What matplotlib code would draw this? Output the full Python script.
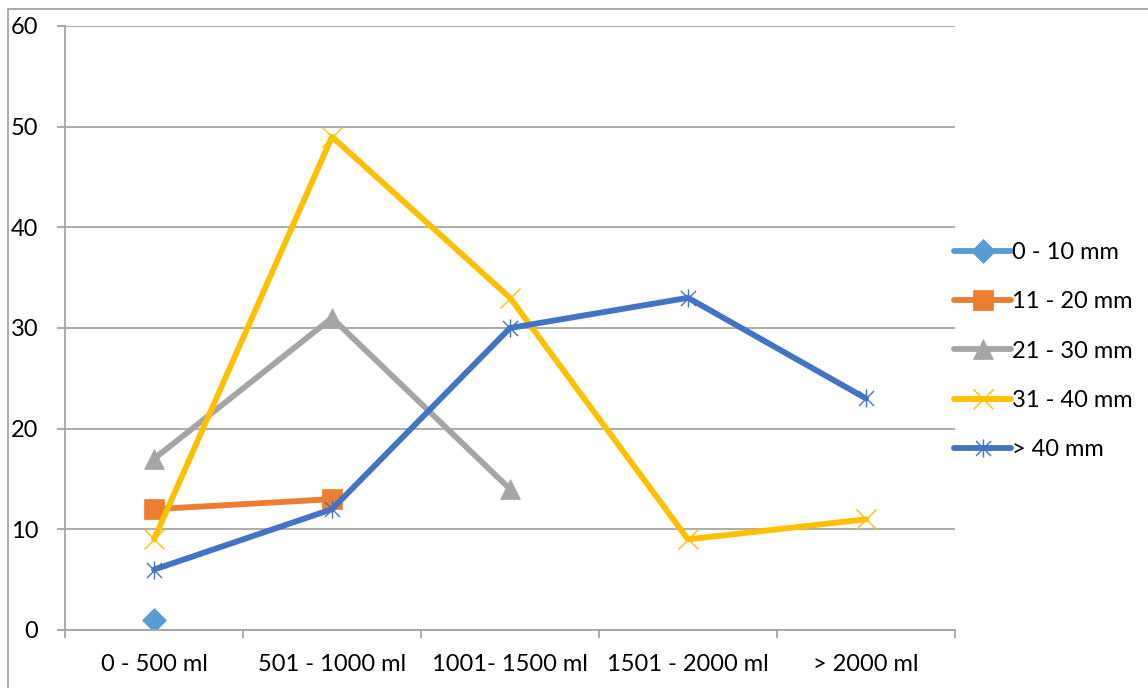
import numpy as np
import matplotlib
matplotlib.use('Agg')
from matplotlib import pyplot as plt
from matplotlib.path import Path
from matplotlib.patches import Rectangle

categories = ['0 - 500 ml', '501 - 1000 ml', '1001- 1500 ml', '1501 - 2000 ml', '> 2000 ml']
s_0_10 = [1]
s_11_20 = [12, 13]
s_21_30 = [17, 31, 14]
s_31_40 = [9, 49, 33, 9, 11]
s_40 = [6, 12, 30, 33, 23]
labels = ['0 - 10 mm', '11 - 20 mm', '21 - 30 mm', '31 - 40 mm', '> 40 mm']
colors = ['#5B9BD5', '#ED7D31', '#A5A5A5', '#FFC000', '#4472C4']

plt.rcParams['font.family'] = ['Lato', 'DejaVu Sans']

# excel style star: x plus a vertical bar
star = Path([(-1, -1), (1, 1), (-1, 1), (1, -1), (0, -1.2), (0, 1.2)],
            [Path.MOVETO, Path.LINETO, Path.MOVETO, Path.LINETO, Path.MOVETO, Path.LINETO])

W, H = 1148, 688
fig = plt.figure(figsize=(W / 100, H / 100), dpi=100)
ax = fig.add_axes([65 / W, 1 - 630 / H, (955 - 65) / W, (630 - 26) / H])

# outer chart frame (cropped on right/bottom)
fig.patches.append(Rectangle((8 / W, -0.1), 1.2, 1 - 9.5 / H + 0.1, transform=fig.transFigure,
                             fill=False, edgecolor='#A6A6A6', lw=1.3))

series = [s_0_10, s_11_20, s_21_30, s_31_40, s_40]
markers = ['D', 's', '^', 'x', star]
msizes = [12, 14, 14, 14, 13]
for vals, lab, c, m, ms in zip(series, labels, colors, markers, msizes):
    x = np.arange(len(vals))
    thin = m in ('x',) or m is star
    ax.plot(x, vals, color=c, lw=4.2, marker=m, markersize=ms, label=lab,
            markeredgewidth=1.0 if thin else 0.5, markeredgecolor=c, markerfacecolor=c,
            solid_capstyle='round', solid_joinstyle='round')

ax.set_ylim(0, 60)
ax.set_xlim(-0.5, 4.5)
ax.set_yticks(range(0, 61, 10))
ax.set_xticks(range(5))
ax.set_xticklabels(categories)
ax.set_xticks(np.arange(-0.5, 5, 1), minor=True)
ax.tick_params(axis='x', which='major', length=0, pad=17, labelsize=17)
ax.tick_params(axis='x', which='minor', length=5.8, width=1.3, color='#A6A6A6', direction='out')
ax.tick_params(axis='y', length=5.8, width=1.3, color='#A6A6A6', pad=13.5, labelsize=17)
ax.yaxis.grid(True, color='#A6A6A6', lw=1.3)
ax.set_axisbelow(True)
for s in ['top', 'right']:
    ax.spines[s].set_visible(False)
ax.spines['left'].set_color('#A6A6A6')
ax.spines['bottom'].set_color('#A6A6A6')
ax.spines['left'].set_linewidth(1.3)
ax.spines['bottom'].set_linewidth(1.3)

fig.legend(loc='center left', bbox_to_anchor=(945 / W, 1 - 351 / H), frameon=False,
           fontsize=17, handlelength=2.4, handletextpad=0.05, labelspacing=1.2,
           borderaxespad=0)

fig.savefig('out.png', dpi=100)
